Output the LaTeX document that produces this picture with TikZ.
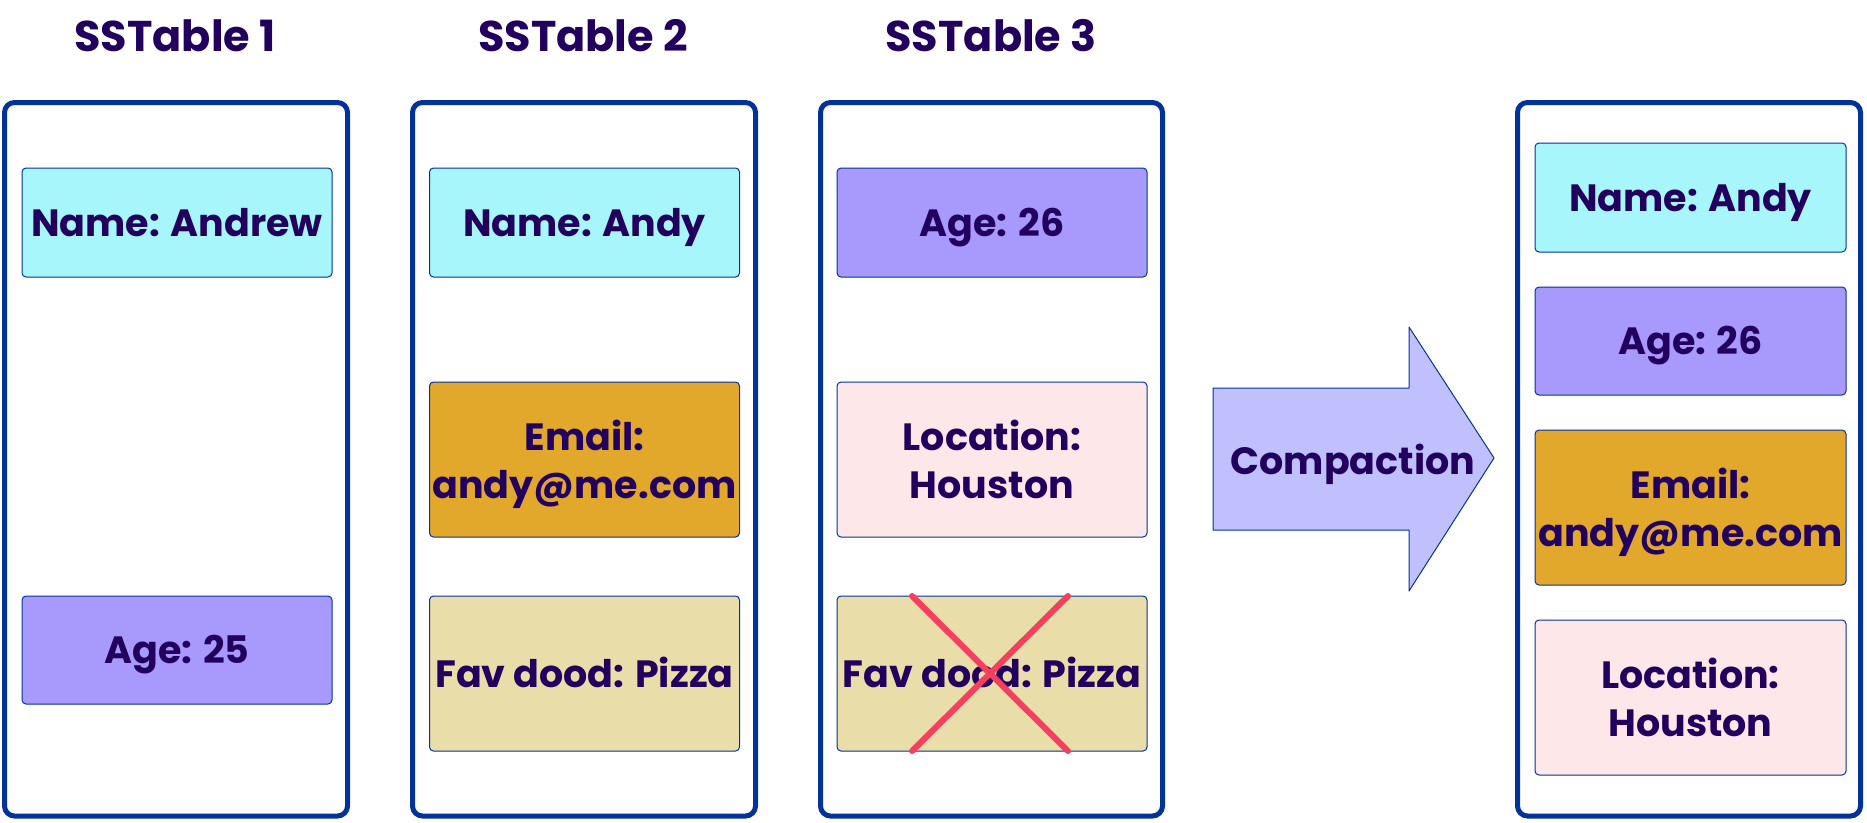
\documentclass[tikz,border=0pt]{standalone}
\usepackage{fontspec}
\setmainfont{Poppins}
\definecolor{txt}{HTML}{22005E}
\definecolor{frame}{HTML}{033399}
\definecolor{cname}{HTML}{A6F6FB}
\definecolor{cage}{HTML}{A899FC}
\definecolor{cmail}{HTML}{E2A82C}
\definecolor{cloc}{HTML}{FDE7E9}
\definecolor{cfav}{HTML}{E9DDA9}
\definecolor{carrow}{HTML}{C0C0FF}
\definecolor{ccross}{HTML}{F43F5E}
\begin{document}
\begin{tikzpicture}[x=1pt,y=-1pt,
  title/.style={text=txt,font=\fontsize{43}{50}\selectfont\bfseries,inner sep=0pt,text height=30pt,text depth=0pt},
  table/.style={draw=frame,line width=5pt,rounded corners=10pt,fill=white},
  entry/.style={draw=frame,line width=1pt,rounded corners=4pt,minimum width=310pt,minimum height=109pt,inner sep=0pt,align=center,text=txt,font=\fontsize{38}{48}\selectfont\bfseries,text depth=0pt},
  oneline/.style={text height=27pt},
  tall/.style={minimum height=155pt},
  cross/.style={draw=ccross,line width=6pt,line cap=round}]
\useasboundingbox (0,0) rectangle (1867,822);
% titles
\node[title] (t1) at (175,36) {SSTable 1};
\node[title] (t2) at (583,36) {SSTable 2};
\node[title] (t3) at (991,36) {SSTable 3};
% containers
\draw[table] (4.5,102.5) rectangle (347.5,816);
\draw[table] (412.5,102.5) rectangle (755.5,816);
\draw[table] (820.5,102.5) rectangle (1162.5,816);
\draw[table] (1517.5,102.5) rectangle (1860.5,816);
% SSTable 1
\node[entry,oneline,fill=cname] (b1) at (177,222.5) {Name: Andrew};
\node[entry,oneline,fill=cage,minimum height=108pt] (b2) at (177,650) {Age: 25};
% SSTable 2
\node[entry,oneline,fill=cname] (b3) at (584.5,222.5) {Name: Andy};
\node[entry,tall,fill=cmail] (b4) at (584.5,459.5) {Email:\\andy@me.com};
\node[entry,oneline,tall,fill=cfav] (b5) at (584.5,673.5) {Fav dood: Pizza};
% SSTable 3
\node[entry,oneline,fill=cage] (b6) at (992,222.5) {Age: 26};
\node[entry,tall,fill=cloc] (b7) at (992,459.5) {Location:\\Houston};
\node[entry,oneline,tall,fill=cfav] (b8) at (992,673.5) {Fav dood: Pizza};
\coordinate (x1) at (912,596);
\coordinate (x2) at (1068,751);
\coordinate (x3) at (1068,596);
\coordinate (x4) at (912,751);
\draw[cross] (x1) -- (x2);
\draw[cross] (x3) -- (x4);
% arrow
\draw[draw=frame,line width=1pt,fill=carrow,line join=round]
  (1213,388) -- (1409,388) -- (1409,327) -- (1494,458) -- (1409,591) -- (1409,530) -- (1213,530) -- cycle;
\node[text=txt,font=\fontsize{38}{44}\selectfont\bfseries,inner sep=0pt,text height=27pt,text depth=0pt] (comp) at (1353,461) {Compaction};
% result
\node[entry,oneline,fill=cname,minimum width=311pt] (r1) at (1690.5,197.5) {Name: Andy};
\node[entry,oneline,fill=cage,minimum width=311pt,minimum height=108pt] (r2) at (1690.5,341) {Age: 26};
\node[entry,tall,fill=cmail,minimum width=311pt] (r3) at (1690.5,507.5) {Email:\\andy@me.com};
\node[entry,tall,fill=cloc,minimum width=311pt] (r4) at (1690.5,697.5) {Location:\\Houston};
\end{tikzpicture}
\end{document}
